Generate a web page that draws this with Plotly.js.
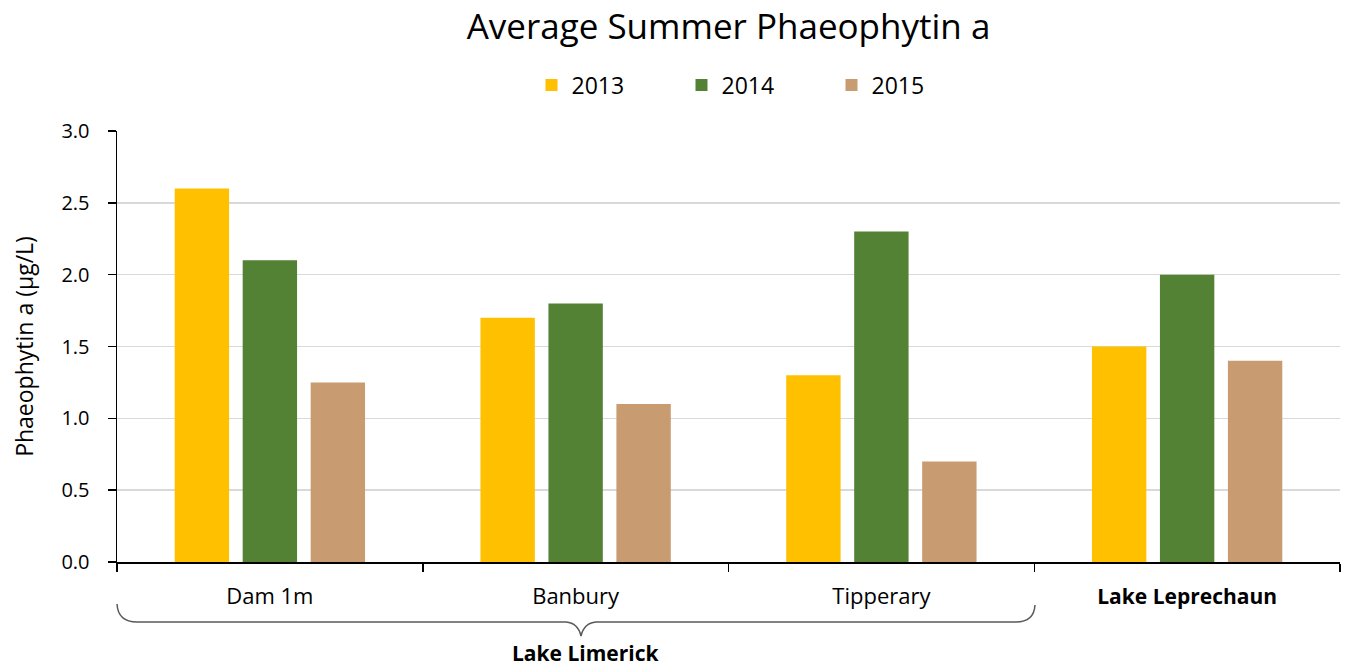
<!DOCTYPE html>
<html>
<head>
<meta charset="utf-8">
<script src="https://cdn.plot.ly/plotly-3.0.1.min.js"></script>
<style>html,body{margin:0;padding:0;background:#fff;}#chart{width:1348px;height:667px;}</style>
</head>
<body>
<div id="chart"></div>
<script>
const categories = ["Dam 1m", "Banbury", "Tipperary", "Lake Leprechaun"];
const tickLabels = ["Dam 1m", "Banbury", "Tipperary", "<b><span style=\"font-size:21px\">Lake Leprechaun</span></b>"];
const years = ["2013", "2014", "2015"];
const values2013 = [2.6, 1.7, 1.3, 1.5];
const values2014 = [2.1, 1.8, 2.3, 2.0];
const values2015 = [1.25, 1.1, 0.7, 1.4];
const groupLabel = "Lake Limerick";

const colors = ["#FFC000", "#548235", "#C89C70"];
const FONT = "Open Sans, sans-serif";

const W = 1348, H = 667;
const M = {l: 117, r: 8, t: 131, b: 105};
const pw = W - M.l - M.r, ph = H - M.t - M.b;
function px(x) { return ((x - M.l) / pw).toFixed(5); }
function py(y) { return ((H - M.b - y) / ph).toFixed(5); }

const series = [values2013, values2014, values2015];
const traces = series.map((vals, i) => ({
  type: "bar",
  name: years[i],
  x: categories,
  y: vals,
  marker: {color: colors[i]},
  hoverinfo: "x+y+name"
}));

// curly brace under the first three categories (paper coordinates from pixel layout)
const bracePath =
  "M" + px(117) + "," + py(604) +
  " Q" + px(118) + "," + py(622) + " " + px(137) + "," + py(622) +
  " L" + px(566) + "," + py(622) +
  " Q" + px(578) + "," + py(623) + " " + px(581) + "," + py(636) +
  " Q" + px(584) + "," + py(623) + " " + px(596) + "," + py(622) +
  " L" + px(1016) + "," + py(622) +
  " Q" + px(1034) + "," + py(622) + " " + px(1035) + "," + py(605);

const layout = {
  width: W, height: H,
  margin: M,
  paper_bgcolor: "#fff",
  plot_bgcolor: "#fff",
  font: {family: FONT, color: "#000"},
  title: {
    text: "Average Summer Phaeophytin a",
    font: {family: FONT, size: 35, color: "#000"},
    x: 0.5, xref: "paper", xanchor: "center",
    y: 1 - 27 / H, yref: "container", yanchor: "middle"
  },
  barmode: "group",
  bargap: 0.333,
  bargroupgap: 0.2,
  showlegend: true,
  legend: {
    orientation: "h",
    x: 0.5 + 28 / pw, xanchor: "center", xref: "paper",
    y: 1 - 85 / H, yanchor: "middle",
    yref: "container",
    font: {family: FONT, size: 23, color: "#000"},
    entrywidth: 105,
    traceorder: "normal"
  },
  xaxis: {
    type: "category",
    tickmode: "array",
    tickvals: categories,
    ticktext: tickLabels,
    tickson: "boundaries",
    ticks: "outside",
    ticklen: 8,
    tickwidth: 1.5,
    tickcolor: "#000",
    showline: true,
    linecolor: "#000",
    linewidth: 1.5,
    showgrid: false,
    tickfont: {family: FONT, size: 22, color: "#000"},
    ticklabelstandoff: 14,
    fixedrange: true
  },
  yaxis: {
    range: [0, 3],
    dtick: 0.5,
    tick0: 0,
    tickformat: ".1f",
    ticks: "outside",
    ticklen: 8,
    tickwidth: 1.5,
    tickcolor: "#000",
    showline: true,
    linecolor: "#000",
    linewidth: 1.5,
    showgrid: true,
    gridcolor: "#D9D9D9",
    gridwidth: 1.5,
    zeroline: false,
    tickfont: {family: FONT, size: 20, color: "#000"},
    ticklabelstandoff: 14,
    title: {text: "Phaeophytin a (µg/L)", font: {family: FONT, size: 23, color: "#000"}, standoff: 21},
    automargin: false,
    fixedrange: true
  },
  shapes: [{
    type: "path",
    xref: "paper", yref: "paper",
    path: bracePath,
    line: {color: "#595959", width: 1.5}
  }],
  annotations: [{
    text: "<b>" + groupLabel + "</b>",
    xref: "paper", yref: "paper",
    x: px(586), y: py(653),
    xanchor: "center", yanchor: "middle",
    showarrow: false,
    font: {family: FONT, size: 21, color: "#000"}
  }]
};

Plotly.newPlot("chart", traces, layout, {staticPlot: true, displayModeBar: false});
</script>
</body>
</html>
